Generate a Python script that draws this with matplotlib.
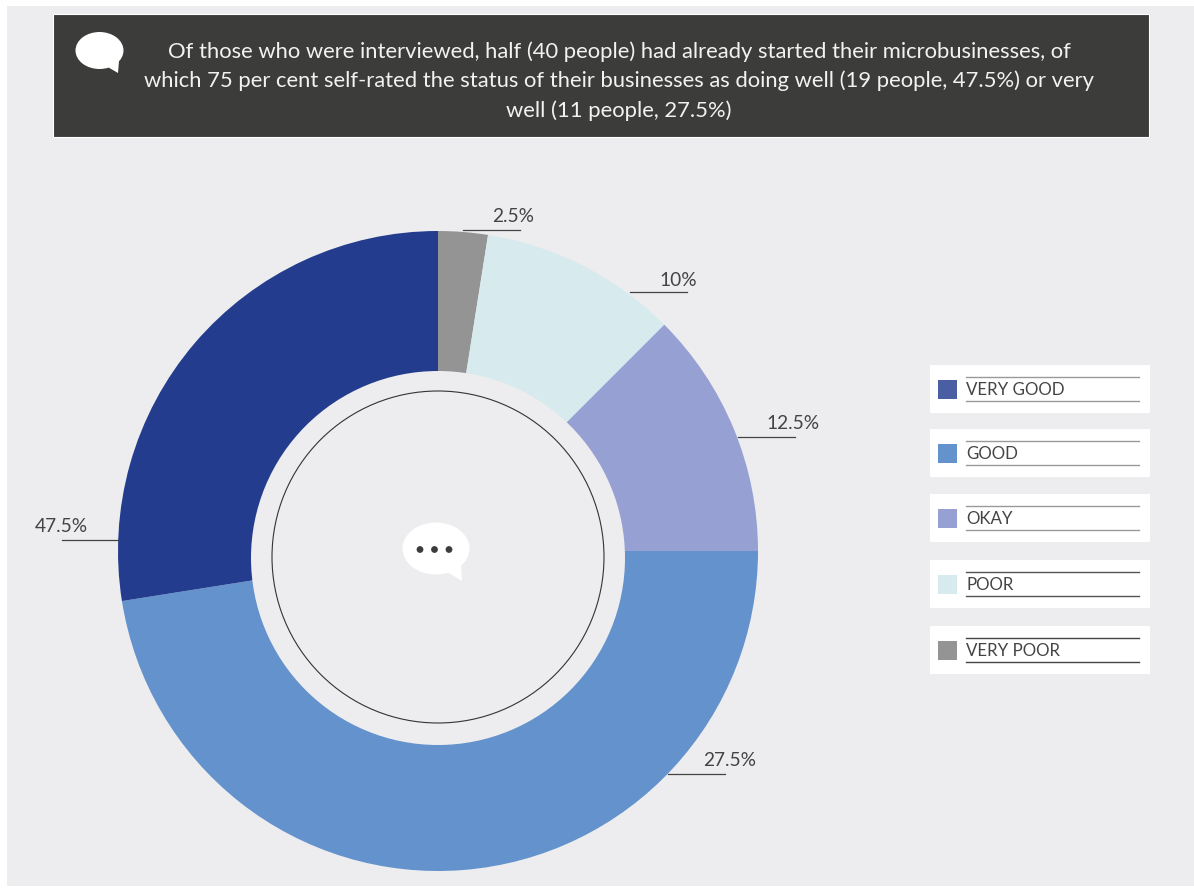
import matplotlib
matplotlib.use("Agg")
import matplotlib.pyplot as plt
from matplotlib.patches import Rectangle, Ellipse, Circle, Polygon

W, H = 1194, 888

# Survey shares, clockwise from twelve o'clock
categories = ["VERY POOR", "POOR", "OKAY", "GOOD", "VERY GOOD"]
shares = [2.5, 10, 12.5, 47.5, 27.5]
slice_colors = ["#949494", "#D7EAED", "#97A0D2", "#6492CD", "#233C8D"]

# Printed callouts, in the same slice order
callouts = ["2.5%", "10%", "12.5%", "27.5%", "47.5%"]
# line start x, line end x, line y, text x, text y
callout_layout = [
    (463, 520, 230, 513, 217),
    (630, 687, 292, 678, 280),
    (738, 795, 437, 793, 424),
    (668, 725, 774, 730, 760),
    (62, 119, 540, 61, 526),
]

legend_labels = ["VERY GOOD", "GOOD", "OKAY", "POOR", "VERY POOR"]
legend_swatches = ["#4A5EA3", "#6492CD", "#97A0D2", "#D7EAED", "#949494"]
legend_tops = [365, 429, 494, 560, 626]
legend_rules = ["#9A9A9A", "#9A9A9A", "#9A9A9A", "#555555", "#444444"]

headline = [
    "Of those who were interviewed, half (40 people) had already started their microbusinesses, of",
    "which 75 per cent self-rated the status of their businesses as doing well (19 people, 47.5%) or very",
    "well (11 people, 27.5%)",
]

PANEL = "#EDEDEF"
DARK = "#3C3C3A"
INK = "#444444"
FONT = "Lato"


def fy(y):
    """Convert a top-down pixel row to the axes' bottom-up coordinate."""
    return H - y


def box(ax, x0, y0, x1, y1, **kw):
    ax.add_patch(Rectangle((x0, fy(y1)), x1 - x0, y1 - y0, **kw))


def bubble(ax, cx, cy, rx, ry, tail):
    ax.add_patch(Ellipse((cx, fy(cy)), 2 * rx, 2 * ry, fc="white", ec="none", zorder=5))
    ax.add_patch(Polygon([(x, fy(y)) for x, y in tail], fc="white", ec="none", zorder=5))


fig = plt.figure(figsize=(W / 100, H / 100), dpi=100, facecolor="white")
ax = fig.add_axes([0, 0, 1, 1])

ax.pie(
    shares,
    colors=slice_colors,
    startangle=90,
    counterclock=False,
    radius=320,
    center=(438, fy(551)),
    wedgeprops=dict(width=150, linewidth=0),
    frame=True,
)
ax.set_xlim(0, W)
ax.set_ylim(0, H)
ax.set_aspect("equal")
ax.axis("off")

# Background panel and headline band
box(ax, 7, 6, W, 886, fc=PANEL, ec="none", zorder=-5)
box(ax, 53, 14, 1149, 137, fc=DARK, ec="white", lw=0.8, zorder=1)
for row, line in zip((52, 81, 111), headline):
    ax.text(619, fy(row), line, color="#F2F2F2", fontsize=15.8, family=FONT,
            ha="center", va="center", zorder=2)
bubble(ax, 99.5, 50.5, 24, 18.5, [(106, 66), (119, 61), (118, 73)])

# The hole sits slightly below the ring's centre, with a thin circle inside it
ax.add_patch(Circle((438, fy(558)), 187, fc=PANEL, ec="none", zorder=2))
ax.add_patch(Circle((438, fy(557)), 166, fc="none", ec="#333333", lw=0.8, zorder=3))
bubble(ax, 436, 548.5, 33.5, 26, [(447, 572), (461, 564), (462, 581)])
for dot_x in (420, 434.5, 449):
    ax.add_patch(Circle((dot_x, fy(549.5)), 3.4, fc=DARK, ec="none", zorder=6))

# Slice callouts
for text, (x0, x1, ly, tx, ty) in zip(callouts, callout_layout):
    ax.plot([x0, x1], [fy(ly), fy(ly)], color="#444444", lw=0.9, zorder=4)
    ax.text(tx, fy(ty), text, color=INK, fontsize=13.8, family=FONT,
            ha="center", va="center", zorder=4)

# Legend cards
for label, swatch, top, rule in zip(legend_labels, legend_swatches, legend_tops, legend_rules):
    box(ax, 930, top, 1150, top + 48, fc="white", ec="none", zorder=1)
    box(ax, 938, top + 15, 957, top + 34, fc=swatch, ec="none", zorder=2)
    for offset in (12, 36):
        ax.plot([966, 1139], [fy(top + offset)] * 2, color=rule, lw=1.0, zorder=2)
    ax.text(966, fy(top + 25), label, color=INK, fontsize=12.2, family=FONT,
            ha="left", va="center", zorder=3)

fig.savefig("out.png", dpi=100, facecolor="white")
